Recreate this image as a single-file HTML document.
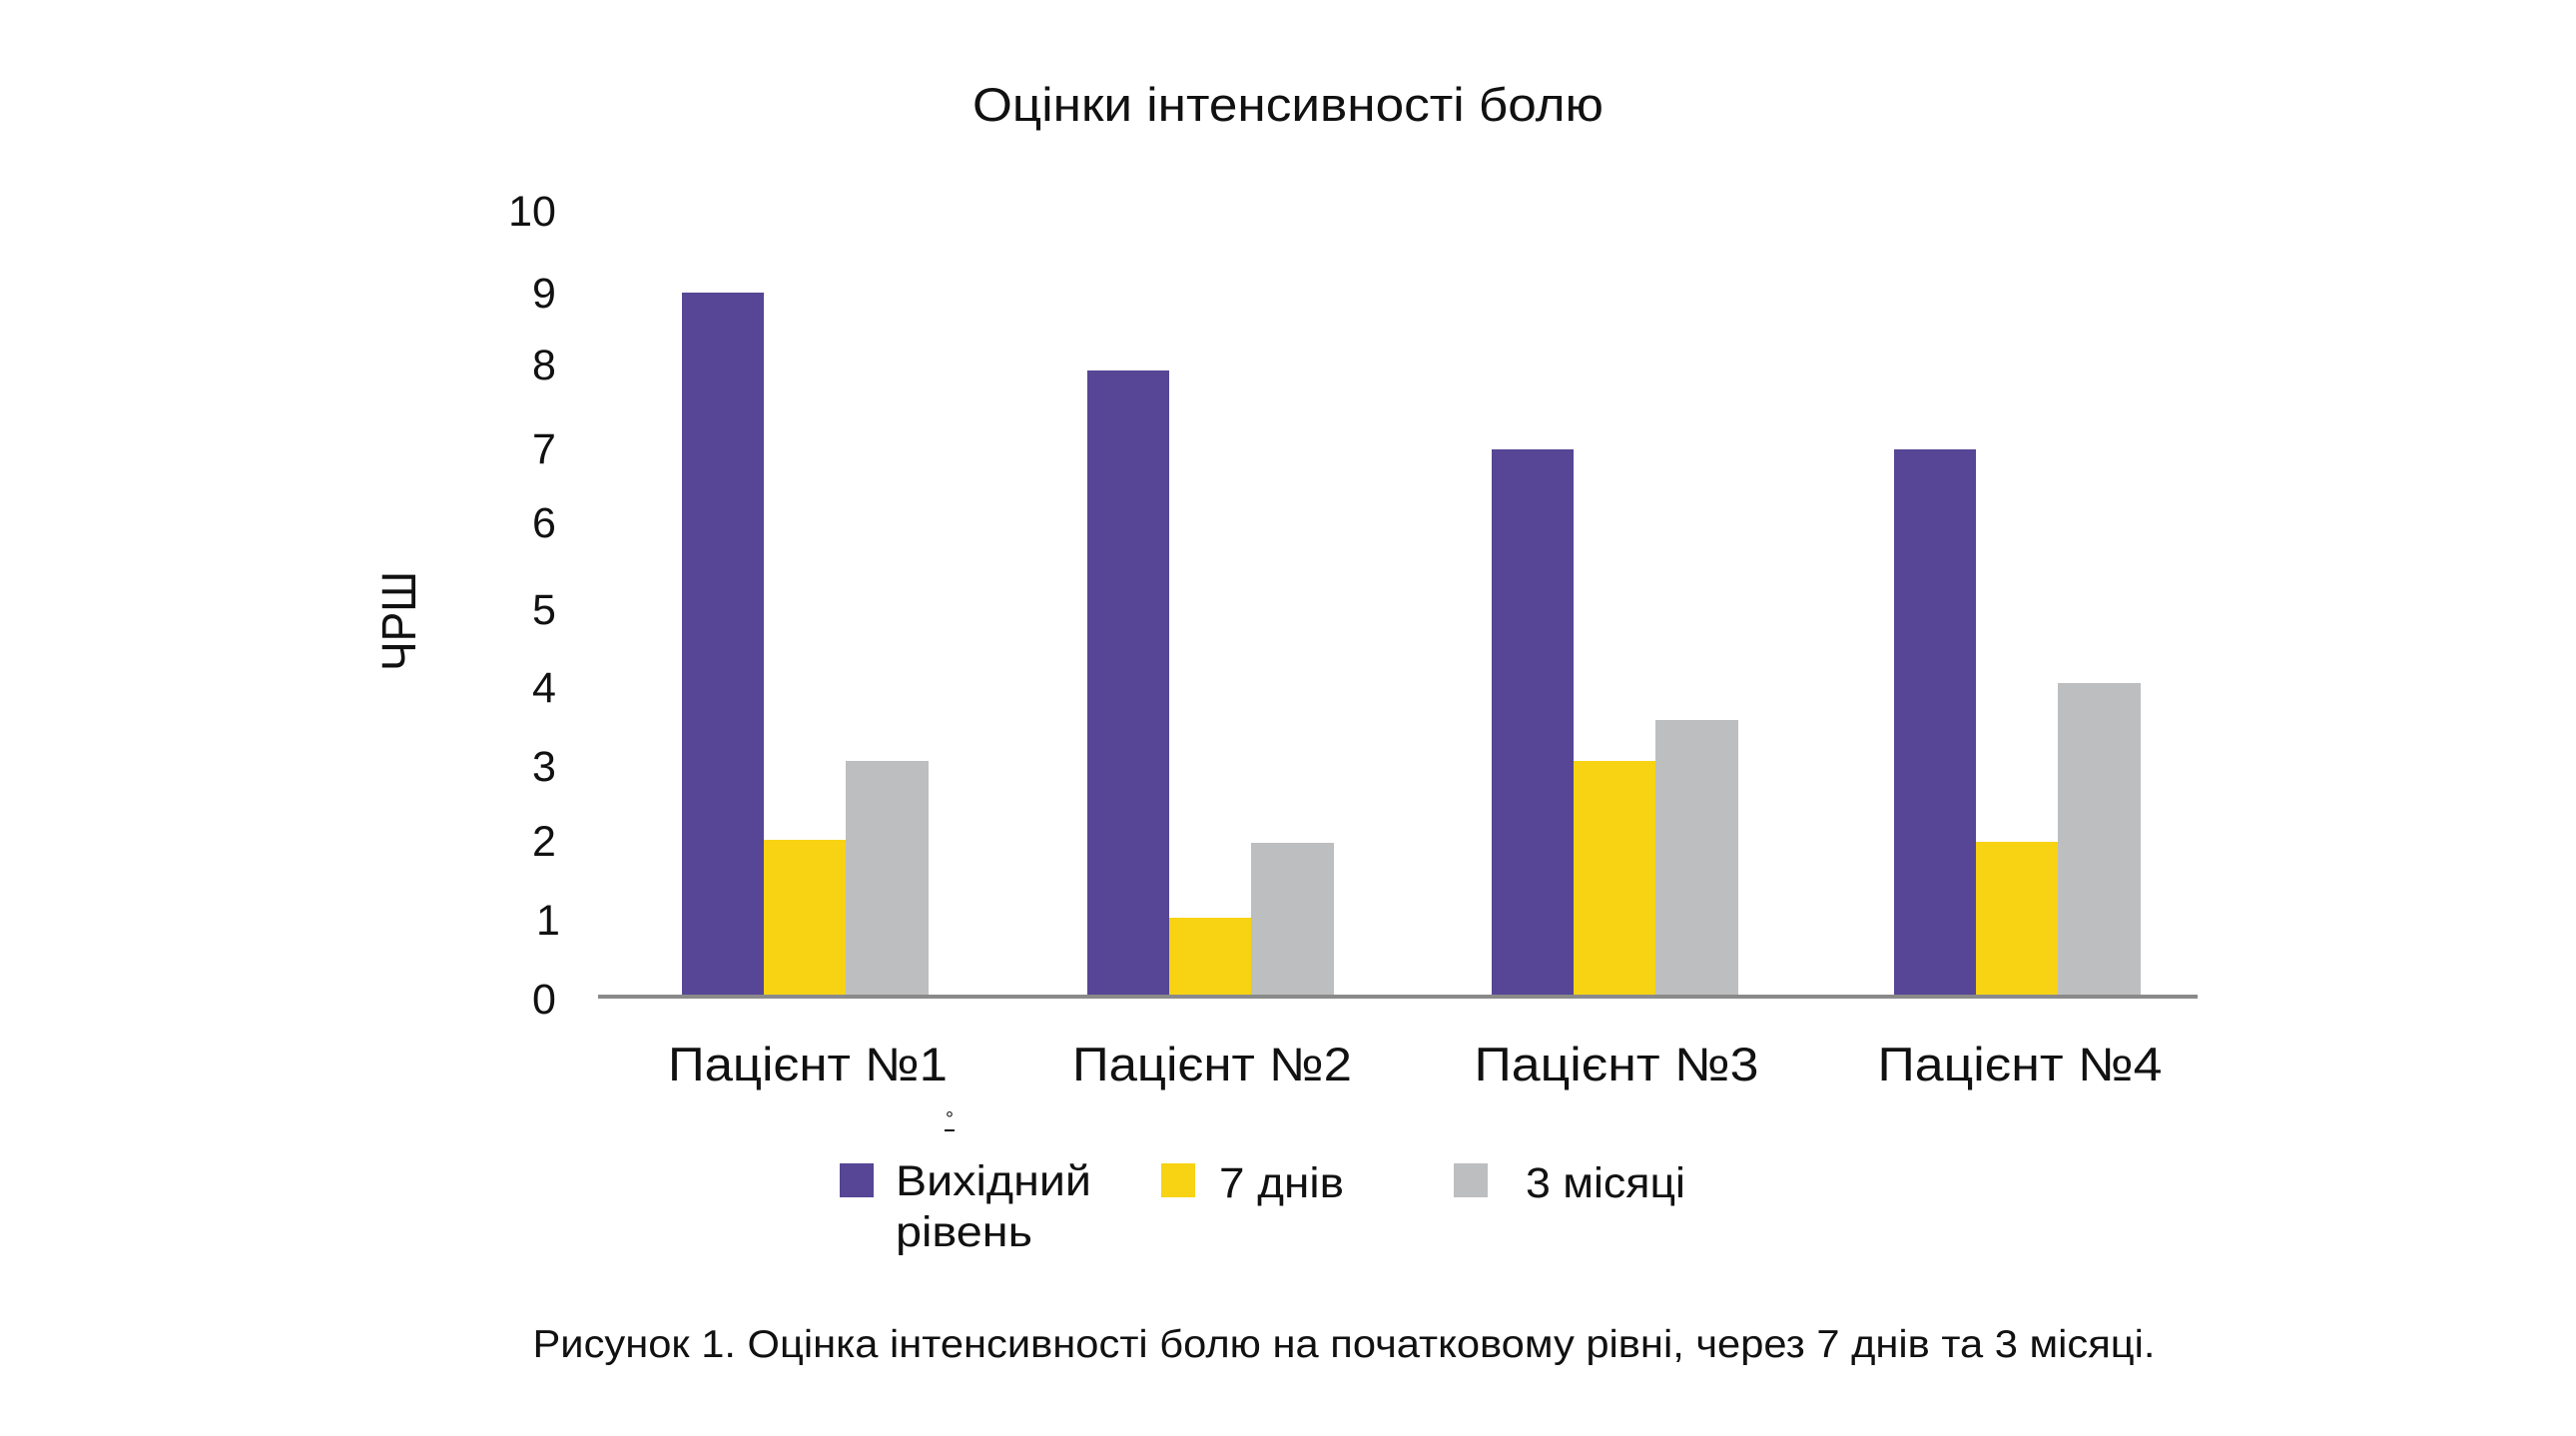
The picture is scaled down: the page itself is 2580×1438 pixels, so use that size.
<!DOCTYPE html>
<html><head><meta charset="utf-8"><style>html,body{margin:0;padding:0;background:#fff}svg{display:block}</style></head>
<body>
<svg width="2580" height="1438" viewBox="0 0 2580 1438" xmlns="http://www.w3.org/2000/svg" font-family="'Liberation Sans', sans-serif" fill="#111">
<text x="1290" y="121" font-size="47" text-anchor="middle" textLength="632" lengthAdjust="spacingAndGlyphs">Оцінки інтенсивності болю</text>
<g font-size="43" text-anchor="middle">
<text x="533" y="226">10</text>
<text x="545" y="308">9</text>
<text x="545" y="380">8</text>
<text x="545" y="464">7</text>
<text x="545" y="538">6</text>
<text x="545" y="625">5</text>
<text x="545" y="703">4</text>
<text x="545" y="782">3</text>
<text x="545" y="857">2</text>
<text x="549" y="936">1</text>
<text x="545" y="1015">0</text>
</g>
<text transform="translate(416,622) rotate(-90)" font-size="48" text-anchor="middle" textLength="100" lengthAdjust="spacingAndGlyphs">ЧРШ</text>
<g>
<rect x="683" y="293" width="82" height="704" fill="#564695"/>
<rect x="765" y="841" width="82" height="156" fill="#F7D313"/>
<rect x="847" y="762" width="83" height="235" fill="#BDBEBF"/>
<rect x="1089" y="371" width="82" height="626" fill="#564695"/>
<rect x="1171" y="919" width="82" height="78" fill="#F7D313"/>
<rect x="1253" y="844" width="83" height="153" fill="#BDBEBF"/>
<rect x="1494" y="450" width="82" height="547" fill="#564695"/>
<rect x="1576" y="762" width="82" height="235" fill="#F7D313"/>
<rect x="1658" y="721" width="83" height="276" fill="#BDBEBF"/>
<rect x="1897" y="450" width="82" height="547" fill="#564695"/>
<rect x="1979" y="843" width="82" height="154" fill="#F7D313"/>
<rect x="2061" y="684" width="83" height="313" fill="#BDBEBF"/>
</g>
<rect x="599" y="996" width="1602" height="4" fill="#8a8a8a"/>
<g font-size="47" text-anchor="middle">
<text x="809" y="1082" textLength="280" lengthAdjust="spacingAndGlyphs">Пацієнт №1</text>
<text x="1214" y="1082" textLength="280" lengthAdjust="spacingAndGlyphs">Пацієнт №2</text>
<text x="1619" y="1082" textLength="285" lengthAdjust="spacingAndGlyphs">Пацієнт №3</text>
<text x="2023" y="1082" textLength="285" lengthAdjust="spacingAndGlyphs">Пацієнт №4</text>
</g>
<text x="951" y="1127" font-size="20" text-anchor="middle">°</text>
<rect x="946" y="1131" width="10" height="2" fill="#111"/>
<rect x="841" y="1165" width="34" height="34" fill="#564695"/>
<rect x="1163" y="1165" width="34" height="34" fill="#F7D313"/>
<rect x="1456" y="1165" width="34" height="34" fill="#BDBEBF"/>
<g font-size="43">
<text x="897" y="1197" textLength="196" lengthAdjust="spacingAndGlyphs">Вихідний</text>
<text x="897" y="1248" textLength="137" lengthAdjust="spacingAndGlyphs">рівень</text>
<text x="1221" y="1199" textLength="125" lengthAdjust="spacingAndGlyphs">7 днів</text>
<text x="1528" y="1199" textLength="160" lengthAdjust="spacingAndGlyphs">3 місяці</text>
</g>
<text x="1346" y="1359" font-size="39" text-anchor="middle" textLength="1625" lengthAdjust="spacingAndGlyphs">Рисунок 1. Оцінка інтенсивності болю на початковому рівні, через 7 днів та 3 місяці.</text>
</svg>
</body></html>
